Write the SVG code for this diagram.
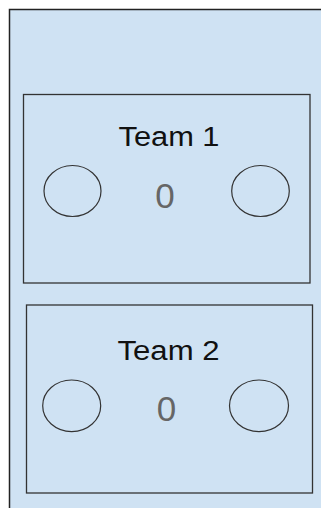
<svg xmlns="http://www.w3.org/2000/svg" width="321" height="508" viewBox="0 0 321 508">
<style>
.bg{fill:#cfe2f3;stroke:#222;stroke-width:1.5}
.box{fill:#cfe2f3;stroke:#333;stroke-width:1.3}
.ball{fill:none;stroke:#333;stroke-width:1.2}
.title{font-family:"Liberation Sans",Arial,sans-serif;font-size:27px;fill:#111;text-anchor:middle}
.score{font-family:"Liberation Sans",Arial,sans-serif;font-size:35px;fill:#666;text-anchor:middle}
</style>
<rect width="321" height="508" fill="#ffffff"/>
<rect id="panel" class="bg" x="9.5" y="9.5" width="330" height="520"/>
<g id="team1">
<rect class="box" x="23.5" y="94.5" width="286.5" height="188.5"/>
<text class="title" x="169" y="146" textLength="101" lengthAdjust="spacingAndGlyphs">Team 1</text>
<ellipse class="ball" cx="72.5" cy="191" rx="28.5" ry="25.5"/>
<ellipse class="ball" cx="260.5" cy="191" rx="28.8" ry="25.5"/>
<text class="score" x="165" y="207.5">0</text>
</g>
<g id="team2">
<rect class="box" x="26.5" y="305" width="286" height="188"/>
<text class="title" x="168.5" y="359.5" textLength="102" lengthAdjust="spacingAndGlyphs">Team 2</text>
<ellipse class="ball" cx="71.7" cy="405.8" rx="29" ry="25.8"/>
<ellipse class="ball" cx="259" cy="405.8" rx="29.5" ry="25.8"/>
<text class="score" x="166.5" y="421">0</text>
</g>
<g id="connectors"/>
</svg>
